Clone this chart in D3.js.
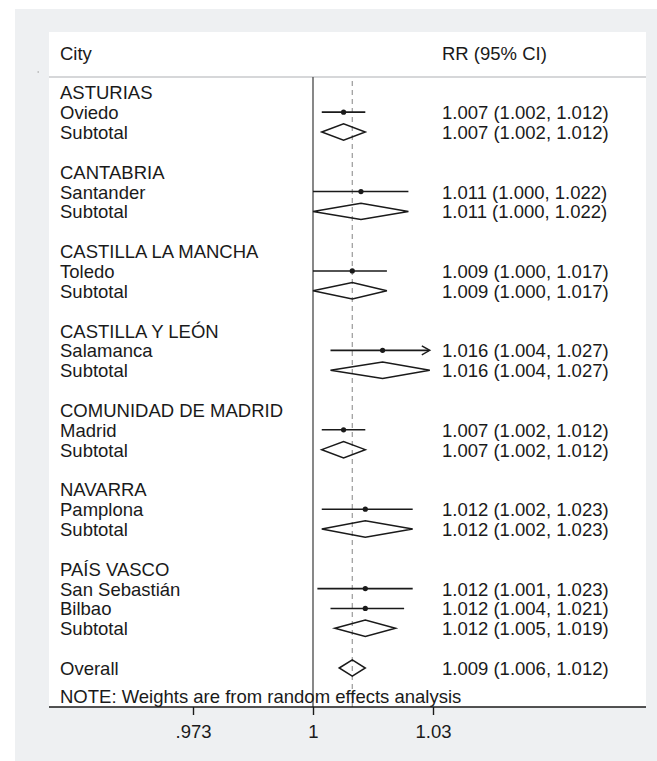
<!DOCTYPE html>
<html>
<head>
<meta charset="utf-8">
<script src="https://cdn.jsdelivr.net/npm/d3@7"></script>
<style>
  html, body { margin: 0; padding: 0; background: #ffffff; }
  svg { display: block; }
  text { font-family: "Liberation Sans", Arial, Helvetica, sans-serif; fill: #1a1a1a; }
</style>
</head>
<body>
<svg id="chart" width="657" height="761"></svg>
<script>
// Row labels, top to bottom ("" = spacer row)
const labels = [
  "ASTURIAS", "Oviedo", "Subtotal", "",
  "CANTABRIA", "Santander", "Subtotal", "",
  "CASTILLA LA MANCHA", "Toledo", "Subtotal", "",
  "CASTILLA Y LEÓN", "Salamanca", "Subtotal", "",
  "COMUNIDAD DE MADRID", "Madrid", "Subtotal", "",
  "NAVARRA", "Pamplona", "Subtotal", "",
  "PAÍS VASCO", "San Sebastián", "Bilbao", "Subtotal", "",
  "Overall"
];
// Row kind: h = region heading, s = study, d = pooled diamond, b = blank
const kinds = [
  "h","s","d","b",
  "h","s","d","b",
  "h","s","d","b",
  "h","s","d","b",
  "h","s","d","b",
  "h","s","d","b",
  "h","s","s","d","b",
  "d"
];
// Relative risk and 95% CI (null where the row has none)
const rr = [
  null, 1.007, 1.007, null,
  null, 1.011, 1.011, null,
  null, 1.009, 1.009, null,
  null, 1.016, 1.016, null,
  null, 1.007, 1.007, null,
  null, 1.012, 1.012, null,
  null, 1.012, 1.012, 1.012, null,
  1.009
];
const lower = [
  null, 1.002, 1.002, null,
  null, 1.000, 1.000, null,
  null, 1.000, 1.000, null,
  null, 1.004, 1.004, null,
  null, 1.002, 1.002, null,
  null, 1.002, 1.002, null,
  null, 1.001, 1.004, 1.005, null,
  1.006
];
const upper = [
  null, 1.012, 1.012, null,
  null, 1.022, 1.022, null,
  null, 1.017, 1.017, null,
  null, 1.027, 1.027, null,
  null, 1.012, 1.012, null,
  null, 1.023, 1.023, null,
  null, 1.023, 1.021, 1.019, null,
  1.012
];
const overallRR = 1.009;
const tickValues = [0.973, 1, 1 / 0.973];
const tickLabels = [".973", "1", "1.03"];
const note = "NOTE: Weights are from random effects analysis";

const svg = d3.select("#chart");
const fs = 18.5;

// Backgrounds: outer grey frame and white plot region
svg.append("rect").attr("x", 15).attr("y", 9).attr("width", 642).attr("height", 752).attr("fill", "#eef0f2");
svg.append("rect").attr("x", 49).attr("y", 32).attr("width", 597).attr("height", 675).attr("fill", "#ffffff");
svg.append("rect").attr("x", 37.5).attr("y", 71.5).attr("width", 1.5).attr("height", 1).attr("fill", "#999");

// Scales
const x = d3.scaleLog().domain([tickValues[0], tickValues[2]]).range([193, 433]);
const rowBase = d3.scaleLinear().domain([0, labels.length - 1]).range([99.3, 675]);
const midY = i => rowBase(i) - 7;

const axisY = 707;
const topY = 77;

// Header
svg.append("text").attr("x", 60).attr("y", 59.5).attr("font-size", fs).text("City");
svg.append("text").attr("x", 442).attr("y", 59.5).attr("font-size", fs).text("RR (95% CI)");
svg.append("line").attr("x1", 49).attr("x2", 646).attr("y1", topY).attr("y2", topY)
  .attr("stroke", "#c9cacc").attr("stroke-width", 1.6);

// Reference line at 1 and dashed line at overall estimate
svg.append("line").attr("x1", x(1)).attr("x2", x(1)).attr("y1", topY).attr("y2", axisY)
  .attr("stroke", "#555").attr("stroke-width", 1.4);
svg.append("line").attr("x1", x(overallRR)).attr("x2", x(overallRR)).attr("y1", topY + 4).attr("y2", axisY)
  .attr("stroke", "#9a9a9a").attr("stroke-width", 1.2).attr("stroke-dasharray", "5,4");

// Row labels and estimate text
const fmt = d3.format(".3f");
labels.forEach((lab, i) => {
  if (lab) {
    svg.append("text").attr("x", 60).attr("y", rowBase(i)).attr("font-size", fs).text(lab);
  }
  if (rr[i] != null) {
    svg.append("text").attr("x", 442).attr("y", rowBase(i)).attr("font-size", fs)
      .text(`${fmt(rr[i])} (${fmt(lower[i])}, ${fmt(upper[i])})`);
  }
});

// Study estimates: CI line + point (arrow where the CI reaches the axis limit)
const xMaxPx = x.range()[1];
kinds.forEach((k, i) => {
  const y = midY(i);
  if (k === "s") {
    const x0 = x(lower[i]);
    const x1 = Math.min(x(upper[i]), xMaxPx);
    const arrow = x(upper[i]) >= xMaxPx - 4;
    svg.append("line").attr("x1", x0).attr("x2", arrow ? x1 - 1 : x1).attr("y1", y).attr("y2", y)
      .attr("stroke", "#1a1a1a").attr("stroke-width", 1.6);
    if (arrow) {
      svg.append("path")
        .attr("d", `M${x1 - 8},${y - 4.5} L${x1},${y} L${x1 - 8},${y + 4.5}`)
        .attr("fill", "none").attr("stroke", "#1a1a1a").attr("stroke-width", 1.4);
    }
    svg.append("circle").attr("cx", x(rr[i])).attr("cy", y).attr("r", 2.6).attr("fill", "#1a1a1a");
  } else if (k === "d") {
    const h = 8.2;
    const pts = [
      [x(lower[i]), y], [x(rr[i]), y - h], [x(upper[i]), y], [x(rr[i]), y + h]
    ];
    svg.append("path").attr("d", "M" + pts.map(p => p.join(",")).join("L") + "Z")
      .attr("fill", "none").attr("stroke", "#1a1a1a").attr("stroke-width", 1.5)
      .attr("stroke-linejoin", "miter");
  }
});

// Note
svg.append("text").attr("x", 60).attr("y", 703).attr("font-size", fs).text(note);

// Bottom axis
svg.append("line").attr("x1", 49).attr("x2", 646).attr("y1", axisY).attr("y2", axisY)
  .attr("stroke", "#1a1a1a").attr("stroke-width", 1.5);
const axis = d3.axisBottom(x).tickValues(tickValues)
  .tickFormat((d, i) => tickLabels[i]).tickSize(8).tickPadding(10);
const gAxis = svg.append("g").attr("transform", `translate(0,${axisY})`).call(axis);
gAxis.select(".domain").remove();
gAxis.selectAll(".tick line").attr("stroke", "#1a1a1a").attr("stroke-width", 1.4);
gAxis.selectAll(".tick text").attr("font-size", fs).attr("fill", "#1a1a1a")
  .attr("font-family", "\"Liberation Sans\", Arial, Helvetica, sans-serif");
</script>
</body>
</html>
